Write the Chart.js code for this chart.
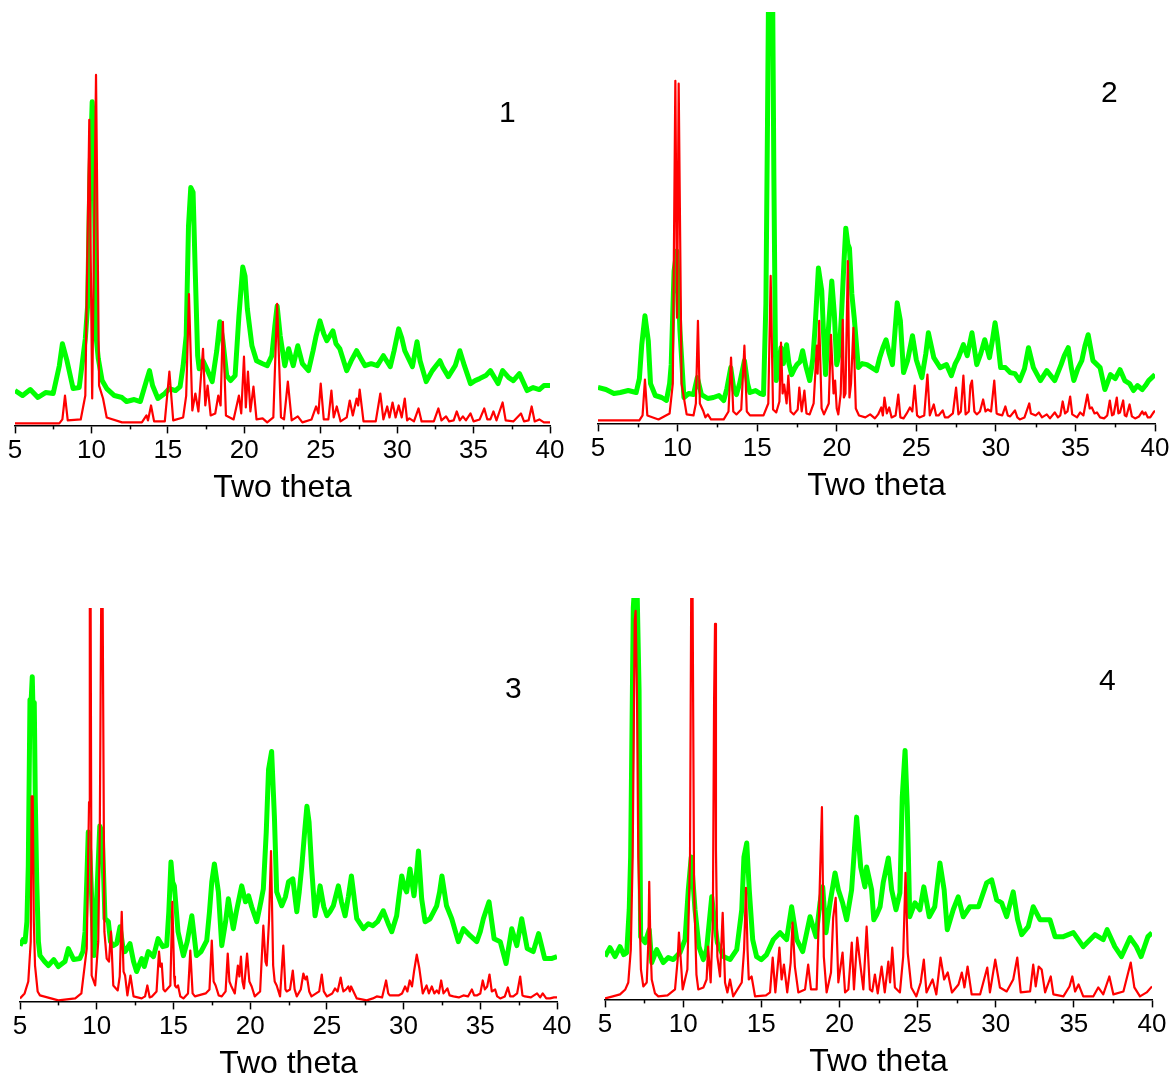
<!DOCTYPE html>
<html lang="en">
<head>
  <meta charset="UTF-8">
  <title>XRD patterns</title>
  <script src="https://cdn.jsdelivr.net/npm/chart.js"></script>
  <style>
    body { margin: 0; background: #fff; overflow: hidden; width: 1174px; height: 1079px; position: relative; }
    canvas { position: absolute; }
    .num { position: absolute; font: 30px "Liberation Sans", Arial, sans-serif; color: #000; line-height: 1; }
  </style>
</head>
<body>
  <canvas id="c1"></canvas>
  <canvas id="c2"></canvas>
  <canvas id="c3"></canvas>
  <canvas id="c4"></canvas>
  <div class="num" style="left:499px;top:97px">1</div>
  <div class="num" style="left:1101px;top:77px">2</div>
  <div class="num" style="left:505px;top:673px">3</div>
  <div class="num" style="left:1099px;top:665px">4</div>

  <script>
    // x range (two theta) and tick labels
    const xMin = 5, xMax = 40;
    const tickLabels = ["5", "10", "15", "20", "25", "30", "35", "40"];
    const axisTitle = "Two theta";

    const p1Red = [[5,2],[7.9,2],[8.1,6],[8.27,30],[8.45,5],[9.3,6],[9.6,30],[9.86,307],[10.05,27],[10.3,352],[10.5,40],[10.76,27],[11.0,8],[12,3],[13.3,3],[13.6,10],[13.7,5],[13.9,20],[14.1,4],[14.8,4],[15.1,54],[15.35,5],[16.0,8],[16.2,30],[16.38,132],[16.6,15],[16.8,32],[17.0,14],[17.3,77],[17.45,20],[17.6,40],[17.8,10],[18.1,12],[18.3,30],[18.45,20],[18.6,104],[18.8,10],[19.3,6],[19.65,30],[19.8,12],[19.98,69],[20.1,18],[20.24,54],[20.4,14],[20.6,39],[20.8,6],[21.2,7],[21.5,3],[21.9,8],[22.15,122],[22.4,8],[22.6,6],[22.85,44],[23.1,5],[23.5,9],[23.8,3],[24.4,6],[24.7,19],[24.85,12],[25.0,42],[25.2,6],[25.5,6],[25.7,35],[25.85,8],[26.05,19],[26.3,4],[26.7,8],[26.9,25],[27.1,10],[27.35,27],[27.45,20],[27.55,36],[27.8,4],[28.6,4],[28.9,32],[29.1,6],[29.35,19],[29.5,8],[29.7,23],[29.9,8],[30.1,20],[30.3,8],[30.5,27],[30.65,5],[30.8,7],[31.1,4],[31.4,17],[31.6,4],[32.4,4],[32.7,17],[32.9,5],[33.2,9],[33.4,4],[33.7,5],[33.9,14],[34.1,5],[34.3,9],[34.5,5],[34.8,12],[35.0,4],[35.4,6],[35.7,17],[35.9,6],[36.1,6],[36.3,14],[36.5,5],[36.9,23],[37.1,5],[37.6,4],[38.1,12],[38.3,4],[38.6,5],[38.8,19],[39.0,4],[39.3,6],[39.6,3],[40,3]];
    const p1Green = [[5,35],[5.5,30],[6,36],[6.5,28],[7,33],[7.5,32],[7.9,60],[8.1,82],[8.4,65],[8.8,37],[9.2,38],[9.5,75],[9.6,87],[9.75,120],[9.9,250],[10.05,325],[10.15,300],[10.3,90],[10.45,67],[10.7,45],[11.0,37],[11.5,30],[12.0,28],[12.3,24],[12.8,26],[13.2,24],[13.6,45],[13.8,55],[14.0,40],[14.35,27],[14.8,32],[15.1,37],[15.5,35],[15.8,39],[16.0,60],[16.2,90],[16.35,200],[16.5,239],[16.65,234],[16.8,150],[16.95,70],[17.05,57],[17.3,65],[17.6,55],[17.9,44],[18.2,75],[18.4,104],[18.6,85],[18.85,50],[19.1,45],[19.4,50],[19.65,110],[19.9,159],[20.05,150],[20.2,117],[20.5,80],[20.8,65],[21.2,62],[21.5,60],[21.8,70],[22.0,100],[22.15,120],[22.35,90],[22.65,60],[22.9,77],[23.2,60],[23.5,80],[23.8,62],[24.2,55],[24.5,75],[24.7,90],[24.95,105],[25.2,92],[25.4,85],[25.6,90],[25.8,95],[26.0,82],[26.25,77],[26.7,55],[27.0,65],[27.35,75],[27.6,68],[27.9,60],[28.3,62],[28.7,60],[29.1,70],[29.55,59],[29.8,75],[30.1,97],[30.3,88],[30.5,75],[31.0,59],[31.3,84],[31.5,65],[31.9,44],[32.3,55],[32.8,65],[33.0,58],[33.35,49],[33.8,60],[34.1,75],[34.4,60],[34.8,42],[35.1,45],[35.4,47],[35.8,50],[36.1,55],[36.6,42],[36.9,55],[37.3,48],[37.6,45],[38.0,52],[38.5,35],[38.9,38],[39.3,36],[39.6,40],[40,40]];

    const p2Red = [[5,3],[7.6,3],[7.8,8],[7.95,44],[8.1,8],[8.8,4],[9.5,10],[9.7,40],[9.86,344],[9.97,106],[10.07,341],[10.25,40],[10.57,9],[11.0,8],[11.15,20],[11.28,103],[11.4,20],[11.6,13],[11.75,6],[11.9,9],[12.1,4],[12.9,4],[13.2,12],[13.36,66],[13.5,12],[13.7,9],[14.0,14],[14.2,78],[14.35,12],[14.55,8],[15.4,8],[15.7,20],[15.85,148],[16.0,14],[16.2,11],[16.4,22],[16.5,81],[16.6,30],[16.7,39],[16.85,20],[16.96,48],[17.1,12],[17.3,9],[17.55,14],[17.65,36],[17.8,12],[17.97,33],[18.1,10],[18.3,9],[18.55,20],[18.75,78],[18.8,50],[18.9,103],[19.05,15],[19.2,9],[19.5,20],[19.64,89],[19.8,30],[19.9,43],[20.0,15],[20.1,9],[20.25,30],[20.38,104],[20.45,26],[20.55,30],[20.7,163],[20.8,26],[20.9,40],[21.05,96],[21.2,15],[21.4,8],[21.8,6],[22.1,9],[22.4,5],[22.6,9],[22.8,16],[22.9,8],[23.0,26],[23.15,10],[23.3,16],[23.45,6],[23.7,8],[23.87,29],[24.0,6],[24.2,5],[24.4,10],[24.6,16],[24.75,12],[24.9,38],[25.05,8],[25.2,6],[25.5,8],[25.7,49],[25.85,8],[26.1,19],[26.25,8],[26.4,8],[26.66,13],[26.8,6],[27.0,6],[27.3,10],[27.5,36],[27.65,9],[27.8,12],[27.96,48],[28.1,9],[28.3,12],[28.4,38],[28.5,43],[28.65,12],[28.8,9],[29.0,12],[29.2,24],[29.35,12],[29.5,14],[29.7,12],[29.9,43],[30.05,10],[30.17,9],[30.4,8],[30.6,17],[30.75,8],[30.9,7],[31.2,13],[31.35,6],[31.5,4],[31.8,6],[32.1,20],[32.2,10],[32.36,9],[32.5,8],[32.7,11],[32.9,6],[33.2,9],[33.4,5],[33.7,11],[33.9,6],[34.05,8],[34.2,22],[34.35,10],[34.5,12],[34.67,27],[34.8,9],[34.9,8],[35.1,6],[35.3,11],[35.5,8],[35.75,29],[35.9,15],[36.03,16],[36.2,10],[36.35,11],[36.55,6],[36.8,5],[37.0,8],[37.16,23],[37.3,8],[37.4,9],[37.6,26],[37.7,10],[37.8,11],[38.0,23],[38.1,8],[38.2,7],[38.4,19],[38.55,7],[38.75,5],[39.0,7],[39.2,12],[39.3,9],[39.4,11],[39.55,6],[39.7,6],[39.95,12],[40,12]];
    const p2Green = [[5,36],[5.5,34],[6.0,30],[6.4,31],[6.9,33],[7.4,31],[7.6,45],[7.75,79],[7.95,108],[8.16,83],[8.3,40],[8.6,28],[9.0,26],[9.3,23],[9.5,40],[9.6,59],[9.78,153],[9.95,173],[10.15,93],[10.4,26],[10.7,30],[11.0,29],[11.24,46],[11.5,29],[11.9,25],[12.25,26],[12.6,28],[12.9,23],[13.1,35],[13.34,56],[13.55,33],[13.7,29],[13.9,40],[14.2,63],[14.4,40],[14.55,31],[14.9,33],[15.2,30],[15.4,29],[15.55,120],[15.65,300],[15.72,440],[15.85,470],[15.97,440],[16.05,250],[16.15,70],[16.2,43],[16.35,60],[16.5,76],[16.65,60],[16.85,79],[17.0,60],[17.17,49],[17.35,55],[17.5,59],[17.7,62],[17.86,73],[18.05,58],[18.3,43],[18.5,65],[18.64,96],[18.85,156],[19.06,133],[19.2,80],[19.3,49],[19.5,100],[19.69,143],[19.85,110],[20.0,59],[20.15,70],[20.3,109],[20.45,160],[20.57,196],[20.7,180],[20.8,176],[20.95,130],[21.1,106],[21.36,56],[21.6,60],[21.9,59],[22.2,56],[22.5,53],[22.7,66],[22.9,76],[23.1,84],[23.3,70],[23.5,59],[23.65,90],[23.8,121],[24.0,103],[24.2,51],[24.45,63],[24.76,88],[25.0,64],[25.35,46],[25.6,70],[25.76,91],[26.1,66],[26.5,56],[26.9,59],[27.2,48],[27.45,60],[27.65,66],[27.96,79],[28.2,68],[28.5,91],[28.8,59],[29.05,70],[29.3,84],[29.6,66],[29.8,85],[29.95,101],[30.1,85],[30.3,56],[30.6,56],[30.9,51],[31.2,50],[31.5,43],[31.8,55],[32.05,76],[32.36,56],[32.8,43],[33.2,53],[33.45,48],[33.7,43],[34.1,59],[34.3,68],[34.55,76],[34.75,55],[34.9,43],[35.15,55],[35.4,63],[35.6,78],[35.8,89],[36.1,63],[36.55,56],[36.85,34],[37.2,49],[37.5,45],[37.8,54],[38.1,43],[38.4,40],[38.65,33],[38.9,38],[39.2,34],[39.4,38],[39.6,43],[39.8,46],[40,49]];

    const p3Red = [[5,3],[5.3,8],[5.54,20],[5.7,60],[5.76,206],[5.83,206],[5.9,80],[5.98,36],[6.15,10],[6.3,6],[7.5,1],[8.6,3],[9.0,8],[9.35,53],[9.5,200],[9.55,420],[9.6,420],[9.67,26],[9.9,16],[10.1,60],[10.2,170],[10.3,420],[10.38,420],[10.5,70],[10.65,43],[10.8,40],[10.93,70],[11.08,16],[11.37,11],[11.5,25],[11.63,90],[11.75,30],[11.85,26],[12.0,6],[12.2,26],[12.4,5],[12.93,3],[13.15,5],[13.3,16],[13.45,4],[13.6,5],[13.9,10],[14.06,50],[14.15,35],[14.24,38],[14.35,12],[14.45,10],[14.8,16],[14.93,100],[15.05,25],[15.1,16],[15.2,14],[15.3,16],[15.45,5],[15.65,3],[15.95,8],[16.1,51],[16.25,8],[16.4,5],[17.1,8],[17.35,12],[17.5,61],[17.62,20],[17.75,16],[17.95,6],[18.15,5],[18.4,10],[18.54,48],[18.65,20],[18.75,16],[19.0,8],[19.2,36],[19.3,25],[19.4,45],[19.5,20],[19.6,13],[19.8,48],[19.95,20],[20.1,15],[20.3,5],[20.65,10],[20.86,76],[21.0,40],[21.08,36],[21.23,81],[21.36,151],[21.5,36],[21.6,20],[21.73,16],[21.95,5],[22.16,56],[22.3,12],[22.38,10],[22.6,12],[22.78,31],[22.9,12],[23.04,5],[23.3,12],[23.47,28],[23.6,22],[23.7,25],[23.85,10],[24.0,5],[24.5,10],[24.67,27],[24.8,10],[25.0,5],[25.35,8],[25.53,13],[25.7,10],[25.9,24],[26.0,15],[26.08,10],[26.25,12],[26.4,15],[26.5,10],[26.58,15],[26.95,3],[27.6,1],[28.0,3],[28.25,5],[28.6,4],[28.86,21],[29.0,8],[29.1,6],[29.67,6],[29.9,8],[30.1,15],[30.25,10],[30.4,21],[30.55,15],[30.68,30],[30.86,47],[31.03,33],[31.25,8],[31.5,16],[31.65,8],[31.84,15],[32.0,8],[32.16,11],[32.3,8],[32.45,21],[32.6,8],[32.86,13],[33.0,6],[33.25,5],[33.6,4],[33.9,6],[34.2,5],[34.45,12],[34.6,6],[34.77,6],[35.0,8],[35.16,21],[35.3,12],[35.45,15],[35.6,27],[35.75,10],[35.97,12],[36.1,5],[36.3,3],[36.6,5],[36.8,14],[36.95,5],[37.15,5],[37.4,8],[37.6,25],[37.75,6],[37.9,5],[38.3,4],[38.7,8],[38.9,4],[39.07,8],[39.3,3],[39.55,3],[39.8,4],[40,4]];
    const p3Green = [[5,56],[5.2,62],[5.33,60],[5.45,80],[5.54,136],[5.65,303],[5.72,300],[5.8,326],[5.87,276],[5.93,300],[6.0,200],[6.09,120],[6.2,60],[6.3,46],[6.6,40],[6.85,36],[7.2,42],[7.5,35],[7.93,40],[8.15,53],[8.5,42],[8.9,43],[9.1,50],[9.24,70],[9.35,120],[9.45,170],[9.55,150],[9.63,120],[9.82,46],[10.0,103],[10.2,176],[10.36,170],[10.54,83],[10.76,80],[10.9,60],[11.08,56],[11.3,58],[11.52,75],[11.7,55],[11.85,50],[12.17,58],[12.4,40],[12.6,30],[12.93,43],[13.1,35],[13.36,50],[13.7,45],[14.0,63],[14.3,55],[14.56,56],[14.7,90],[14.84,140],[14.95,120],[15.06,116],[15.3,70],[15.65,46],[15.9,60],[16.2,86],[16.5,46],[16.8,50],[17.17,61],[17.35,90],[17.5,120],[17.67,138],[17.93,110],[18.15,56],[18.4,80],[18.58,103],[18.9,73],[19.1,90],[19.45,116],[19.7,100],[19.9,106],[20.1,95],[20.43,80],[20.7,100],[20.86,113],[21.05,170],[21.2,233],[21.4,251],[21.58,186],[21.73,110],[22.06,96],[22.3,105],[22.5,120],[22.78,123],[23.04,90],[23.2,110],[23.37,136],[23.55,170],[23.7,196],[23.84,180],[24.0,136],[24.23,86],[24.4,100],[24.56,116],[24.8,95],[25.0,86],[25.2,90],[25.42,96],[25.75,116],[25.95,100],[26.19,86],[26.4,105],[26.6,126],[26.95,83],[27.38,73],[27.7,78],[28.0,76],[28.3,80],[28.68,91],[29.0,78],[29.23,70],[29.55,86],[29.7,105],[29.88,126],[30.05,115],[30.2,110],[30.42,133],[30.68,106],[30.85,130],[30.97,151],[31.18,103],[31.4,80],[31.73,83],[32.16,96],[32.35,110],[32.5,126],[32.8,96],[33.14,83],[33.57,60],[33.9,73],[34.34,66],[34.77,60],[35.0,70],[35.2,83],[35.57,100],[35.9,63],[36.3,60],[36.68,38],[37.05,73],[37.38,56],[37.7,83],[38.06,53],[38.45,50],[38.8,68],[39.2,43],[39.63,43],[40,45]];

    const p4Red = [[5,1],[5.5,3],[5.96,5],[6.3,10],[6.49,17],[6.65,50],[6.77,143],[6.9,380],[6.96,390],[7.05,300],[7.13,143],[7.3,30],[7.45,13],[7.67,17],[7.78,60],[7.83,118],[7.9,60],[7.99,20],[8.2,6],[8.41,3],[9.0,4],[9.48,10],[9.65,40],[9.73,67],[9.86,37],[9.97,10],[10.27,30],[10.44,143],[10.52,420],[10.6,420],[10.7,110],[10.85,25],[10.97,10],[11.3,12],[11.5,20],[11.6,53],[11.76,17],[11.9,77],[11.98,300],[12.04,377],[12.1,150],[12.19,43],[12.36,23],[12.53,87],[12.68,17],[12.83,7],[13.0,20],[13.2,3],[13.75,17],[13.9,50],[14.02,112],[14.12,50],[14.2,20],[14.38,23],[14.6,3],[15.3,4],[15.56,7],[15.73,42],[15.9,7],[16.16,52],[16.3,20],[16.45,35],[16.66,7],[16.88,37],[17.0,77],[17.15,33],[17.37,7],[17.8,10],[18.0,35],[18.18,10],[18.54,10],[18.7,90],[18.88,193],[19.0,43],[19.18,7],[19.46,27],[19.6,82],[19.76,102],[19.93,17],[20.2,47],[20.36,7],[20.57,10],[20.79,57],[20.93,10],[21.14,62],[21.32,37],[21.53,10],[21.74,73],[21.95,10],[22.1,8],[22.27,25],[22.45,6],[22.7,33],[22.9,7],[23.13,38],[23.24,17],[23.38,52],[23.55,12],[23.87,7],[24.08,43],[24.23,127],[24.37,47],[24.6,12],[24.92,3],[25.2,17],[25.4,40],[25.57,7],[25.96,20],[26.2,5],[26.47,42],[26.7,20],[26.93,27],[27.2,7],[27.62,15],[27.83,27],[28.0,12],[28.2,33],[28.46,5],[29.0,5],[29.46,32],[29.63,7],[29.97,40],[30.27,12],[30.7,8],[31.12,20],[31.38,42],[31.6,7],[32.2,8],[32.4,35],[32.56,13],[32.75,33],[32.94,30],[33.16,7],[33.52,23],[33.69,5],[34.33,3],[34.72,13],[34.9,23],[35.08,8],[35.3,15],[35.6,3],[36.24,3],[36.56,12],[36.88,5],[37.27,23],[37.53,5],[38.17,8],[38.64,37],[38.87,12],[39.23,3],[39.66,7],[40,13]];
    const p4Green = [[5,43],[5.32,52],[5.64,43],[5.96,53],[6.2,45],[6.39,47],[6.55,90],[6.64,143],[6.81,393],[6.95,430],[7.03,430],[7.18,310],[7.28,63],[7.56,57],[7.83,70],[7.99,37],[8.31,50],[8.73,37],[9.05,42],[9.37,40],[9.8,47],[10.12,60],[10.33,110],[10.52,143],[10.76,90],[11.01,53],[11.29,40],[11.5,50],[11.83,103],[12.0,80],[12.19,57],[12.57,43],[13.0,40],[13.43,50],[13.75,90],[13.89,143],[14.07,157],[14.23,110],[14.45,60],[14.7,43],[15.0,40],[15.34,45],[15.77,60],[16.2,67],[16.62,60],[16.94,93],[17.27,60],[17.65,48],[18.12,83],[18.5,63],[18.76,97],[18.93,113],[19.14,67],[19.4,97],[19.72,127],[19.93,110],[20.2,97],[20.46,80],[20.78,110],[21.1,183],[21.36,133],[21.63,113],[21.74,133],[22.06,110],[22.2,80],[22.38,85],[22.6,93],[22.8,117],[23.13,142],[23.34,110],[23.62,90],[23.87,107],[24.02,203],[24.2,250],[24.34,193],[24.5,83],[24.83,97],[25.15,90],[25.4,113],[25.75,83],[26.1,93],[26.43,137],[26.7,110],[26.9,70],[27.28,90],[27.6,103],[27.92,83],[28.35,93],[28.9,93],[29.42,117],[29.74,120],[30.06,100],[30.38,97],[30.7,83],[31.12,108],[31.4,80],[31.66,65],[32.08,73],[32.4,93],[32.83,80],[33.47,80],[33.8,63],[34.33,63],[34.97,67],[35.6,53],[36.35,65],[36.88,60],[37.13,70],[37.62,53],[38.05,43],[38.6,62],[39.0,53],[39.3,43],[39.74,63],[40,67]];

    const font = "'Liberation Sans', Arial, sans-serif";

    // short minor ticks half way between the labelled ones
    const minorTicks = {
      id: "minorTicks",
      afterDraw(chart) {
        const sx = chart.scales.x;
        const c = chart.ctx;
        c.save();
        c.strokeStyle = "#000";
        c.lineWidth = 1.5;
        for (let v = xMin + 2.5; v < xMax; v += 5) {
          const px = Math.round(sx.getPixelForValue(v)) + 0.5;
          c.beginPath();
          c.moveTo(px, sx.top);
          c.lineTo(px, sx.top + 4);
          c.stroke();
        }
        c.restore();
      }
    };

    function toXY(pairs) {
      return pairs.map(p => ({ x: p[0], y: p[1] }));
    }

    function panel(id, box, yMax, red, green) {
      const el = document.getElementById(id);
      el.style.left = box[0] + "px";
      el.style.top = box[1] + "px";
      el.width = box[2];
      el.height = box[3];

      new Chart(el, {
        type: "line",
        data: {
          datasets: [
            { data: toXY(red), borderColor: "#ff0000", borderWidth: 2.2 },
            { data: toXY(green), borderColor: "#00ff00", borderWidth: 5 }
          ]
        },
        options: {
          responsive: false,
          animation: false,
          devicePixelRatio: 1,
          parsing: false,
          elements: { point: { radius: 0 }, line: { tension: 0, borderJoinStyle: "round" } },
          layout: { padding: { left: 20, right: 20, top: 0, bottom: 0 } },
          plugins: { legend: { display: false }, tooltip: { enabled: false } },
          scales: {
            x: {
              type: "linear",
              min: xMin,
              max: xMax,
              border: { display: true, color: "#000", width: 1.5 },
              grid: {
                drawOnChartArea: false,
                tickLength: 8,
                tickWidth: 1.5,
                tickColor: ctx => (ctx.tick && ctx.tick.value % 5 === 0) ? "#000" : "rgba(0,0,0,0)"
              },
              ticks: {
                stepSize: 2.5,
                autoSkip: false,
                maxRotation: 0,
                padding: 2,
                color: "#000",
                font: { family: font, size: 26 },
                callback: v => v % 5 === 0 ? tickLabels[(v - xMin) / 5] : ""
              },
              title: {
                display: true,
                text: axisTitle,
                color: "#000",
                font: { family: font, size: 32 },
                padding: { top: 0, bottom: 0 }
              }
            },
            y: { display: false, min: 0, max: yMax }
          }
        },
        plugins: [minorTicks]
      });
    }

    // canvas box: left, top, width, height
    panel("c1", [-5, 60, 575, 447], 367, p1Red, p1Green);
    panel("c2", [578, 12, 597, 493], 413, p2Red, p2Green);
    panel("c3", [0, 608, 577, 475], 395, p3Red, p3Green);
    panel("c4", [585, 598, 587, 483], 403, p4Red, p4Green);
  </script>
</body>
</html>
